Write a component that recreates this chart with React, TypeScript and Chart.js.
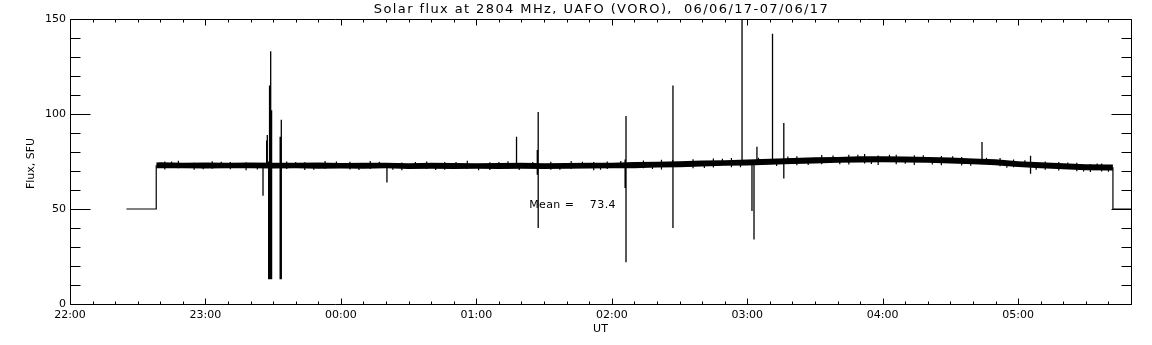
import React, { useEffect, useRef } from "react";
import { Chart, registerables } from "chart.js";

Chart.register(...registerables);

// ---- text ----
const TITLE = "Solar flux at 2804 MHz, UAFO (VORO),  06/06/17-07/06/17";
const X_TITLE = "UT";
const Y_TITLE = "Flux, SFU";
const MEAN_LABEL = "Mean =    73.4";
const MEAN_AT_MIN = 203.4; // minutes after 22:00
const MEAN_AT_FLUX = 51.8;

// ---- axes (x in minutes after 22:00 UT) ----
const X_MIN = 0;
const X_MAX = 470;
const Y_MIN = 0;
const Y_MAX = 150;
const HOUR_TICKS = [0, 60, 120, 180, 240, 300, 360, 420];
const HOUR_LABELS = ["22:00", "23:00", "00:00", "01:00", "02:00", "03:00", "04:00", "05:00"];
const FLUX_TICKS = [0, 50, 100, 150];

// ---- quiet-sun band (envelope of the noisy record) ----
const BAND_T = [38.2, 40, 50, 60, 70, 80, 90, 100, 110, 120, 130, 140, 150, 160, 170, 180, 190, 200, 210, 220, 230, 240, 250, 260, 270, 280, 290, 300, 310, 320, 330, 340, 350, 360, 370, 380, 390, 400, 410, 420, 430, 440, 450, 460, 462];
const BAND_HIGH = [74.5, 74.6, 74.3, 74.5, 74.4, 74.5, 74.3, 74.4, 74.5, 74.2, 74.3, 74.4, 74.1, 74.3, 74.2, 74.1, 74.2, 74.3, 74.1, 74.2, 74.4, 74.4, 74.7, 74.9, 75.1, 75.5, 75.7, 76.1, 76.5, 76.8, 77.2, 77.4, 77.7, 77.8, 77.6, 77.4, 77.1, 76.6, 76.2, 75.1, 74.6, 74.1, 73.5, 73.4, 73.4];
const BAND_LOW = [71.5, 71.4, 71.5, 71.3, 71.4, 71.5, 71.3, 71.4, 71.2, 71.3, 71.2, 71.4, 71.1, 71.2, 71.1, 71.2, 71.0, 71.2, 71.1, 71.2, 71.3, 71.4, 71.5, 71.8, 72.0, 72.4, 72.7, 72.9, 73.3, 73.7, 74.0, 74.4, 74.5, 74.6, 74.5, 74.3, 73.9, 73.5, 73.0, 72.1, 71.4, 70.9, 70.4, 70.2, 70.2];

// ---- small noise tufts sticking out of the band ----
const TUFT_T = [42, 48, 55, 63, 71, 78, 96, 104, 113, 124, 133, 147, 158, 166, 176, 186, 194, 213, 222, 232, 238, 254, 262, 276, 285, 293, 322, 333, 345, 352, 358, 366, 374, 386, 395, 412, 418, 432, 438, 446, 452, 457,
  45, 59, 67, 83, 100, 108, 118, 128, 137, 143, 153, 162, 171, 181, 190, 199, 205, 217, 227, 235, 244, 258, 267, 281, 289, 297, 305, 313, 318, 327, 338, 341, 349, 355, 363, 370, 378, 382, 391, 399, 406, 415, 423, 428, 442, 449, 455, 460];
const TUFT_LOW = [70.8, 71.5, 70.6, 71.2, 70.9, 70.4, 71.0, 70.5, 71.2, 70.8, 71.0, 70.4, 71.1, 70.7, 71.0, 70.5, 71.1, 70.6, 71.0, 70.4, 71.1, 71.5, 70.8, 71.4, 71.8, 72.0, 73.0, 73.6, 73.4, 74.0, 73.2, 73.6, 73.2, 73.0, 72.9, 72.5, 72.0, 70.6, 70.2, 69.9, 69.5, 69.7,
  73.0, 70.9, 72.8, 70.8, 72.8, 70.7, 72.8, 70.5, 72.8, 70.6, 72.6, 70.5, 72.6, 70.4, 72.6, 70.5, 72.6, 70.6, 72.8, 70.6, 73.0, 71.0, 73.5, 71.6, 74.2, 72.0, 74.7, 72.6, 75.2, 73.1, 75.8, 73.5, 76.1, 73.7, 76.2, 73.8, 75.9, 73.4, 75.5, 72.8, 74.8, 71.7, 73.4, 70.6, 72.4, 69.8, 71.9, 69.6];
const TUFT_HIGH = [75.0, 75.4, 74.4, 75.1, 74.8, 74.6, 75.0, 74.6, 75.2, 74.9, 75.3, 74.5, 75.0, 74.8, 75.4, 74.6, 75.1, 74.9, 75.2, 74.7, 75.0, 75.5, 75.9, 76.2, 76.6, 76.9, 77.8, 78.4, 78.6, 78.9, 78.2, 78.6, 78.3, 77.9, 77.4, 76.9, 76.0, 75.0, 74.7, 74.4, 73.7, 73.9,
  75.0, 73.0, 74.9, 73.0, 74.8, 72.9, 75.0, 72.7, 74.9, 72.8, 74.7, 72.7, 74.8, 72.7, 74.7, 72.7, 74.8, 72.7, 74.9, 72.8, 75.2, 73.3, 75.8, 73.9, 76.5, 74.4, 77.0, 75.0, 77.6, 75.5, 78.2, 75.9, 78.5, 76.1, 78.6, 76.1, 78.3, 75.8, 77.8, 75.2, 77.0, 74.1, 75.6, 73.1, 74.5, 72.1, 73.9, 71.8];

// ---- spikes / dropouts ----
const SPIKE_T = [85.5, 87.1, 87.4, 88.0, 88.4, 88.9, 89.3, 93.1, 93.6, 140.4, 197.8, 207.0, 207.4, 245.9, 246.3, 267.1, 297.7, 302.1, 303.0, 304.3, 311.2, 316.2, 404.0, 425.5];
const SPIKE_LOW = [57, 72, 72, 13, 13, 13, 13, 13, 13, 64, 72, 68, 40, 61, 22, 40, 73, 49, 34, 74, 74, 66, 75, 68.5];
const SPIKE_HIGH = [73, 86, 89, 75, 115, 133, 102, 88, 97, 73, 88, 81, 101, 76, 99, 115, 150, 74, 74, 82.8, 142.3, 95.3, 85.3, 78];

// ---- calibration steps at start and end ----
const LEAD_T = [25, 38.2, 38.2];
const LEAD_Y = [50, 50, 73];
const TAIL_T = [462, 462, 470];
const TAIL_Y = [72, 50, 50];

const FONT = "DejaVu Sans";

const pts = (xs: number[], ys: number[]) => xs.map((x, i) => ({ x, y: ys[i] }));
const segs = (ts: number[], lo: number[], hi: number[]) => {
  const out: { x: number; y: number | null }[] = [];
  ts.forEach((t, i) => {
    out.push({ x: t, y: lo[i] }, { x: t, y: hi[i] }, { x: t, y: null });
  });
  return out;
};

const idlPlugin = {
  id: "idlFrame",
  afterDraw(chart: any) {
    const { ctx, chartArea: a, scales } = chart;
    const xs = scales.x;
    const ys = scales.y;
    ctx.save();
    ctx.strokeStyle = "#000";
    ctx.lineWidth = 1;
    ctx.beginPath();
    const L = a.left + 0.5;
    const R = a.right + 0.5;
    const T = a.top + 0.5;
    const B = a.bottom + 0.5;
    ctx.moveTo(L, T);
    ctx.lineTo(R, T);
    ctx.lineTo(R, B);
    ctx.lineTo(L, B);
    ctx.closePath();
    for (let v = Y_MIN; v <= Y_MAX; v += 10) {
      const y = Math.round(ys.getPixelForValue(v)) + 0.5;
      const len = v % 50 === 0 ? 20 : 10;
      ctx.moveTo(L, y);
      ctx.lineTo(L + len, y);
      ctx.moveTo(R, y);
      ctx.lineTo(R - len, y);
    }
    for (let t = X_MIN; t <= X_MAX; t += 10) {
      const x = Math.round(xs.getPixelForValue(t)) + 0.5;
      const len = t % 60 === 0 ? 6 : 3;
      ctx.moveTo(x, B);
      ctx.lineTo(x, B - len);
      ctx.moveTo(x, T);
      ctx.lineTo(x, T + len);
    }
    ctx.stroke();

    ctx.fillStyle = "#000";
    // title
    ctx.font = `13px "${FONT}"`;
    (ctx as any).letterSpacing = "1.4px";
    ctx.textAlign = "center";
    ctx.textBaseline = "middle";
    ctx.fillText(TITLE, (a.left + a.right) / 2 + 1, 10);
    (ctx as any).letterSpacing = "0px";
    // x title
    ctx.font = `11px "${FONT}"`;
    ctx.fillText(X_TITLE, (a.left + a.right) / 2, 329);
    // y title
    ctx.save();
    ctx.translate(31, (a.top + a.bottom) / 2 + 2);
    ctx.rotate(-Math.PI / 2);
    ctx.fillText(Y_TITLE, 0, 0);
    ctx.restore();
    // mean
    ctx.textAlign = "left";
    (ctx as any).letterSpacing = "0.4px";
    ctx.fillText(MEAN_LABEL, xs.getPixelForValue(MEAN_AT_MIN), ys.getPixelForValue(MEAN_AT_FLUX));
    (ctx as any).letterSpacing = "0px";
    ctx.restore();
  },
};

export default function App() {
  const ref = useRef<HTMLCanvasElement | null>(null);
  useEffect(() => {
    if (!ref.current) return;
    const lineDs = (data: any[], extra: any = {}) => ({
      data,
      borderColor: "#000",
      borderWidth: 1,
      pointRadius: 0,
      fill: false,
      tension: 0,
      spanGaps: false,
      ...extra,
    });
    const chart = new Chart(ref.current, {
      type: "line",
      data: {
        datasets: [
          lineDs(pts(BAND_T, BAND_LOW), { borderWidth: 0 }),
          lineDs(pts(BAND_T, BAND_HIGH), { borderWidth: 0, fill: "-1", backgroundColor: "#000" }),
          lineDs(segs(TUFT_T, TUFT_LOW, TUFT_HIGH), { borderWidth: 1.2 }),
          lineDs(segs(SPIKE_T, SPIKE_LOW, SPIKE_HIGH), { borderWidth: 1.3 }),
          lineDs(pts(LEAD_T, LEAD_Y), { borderWidth: 1.2 }),
          lineDs(pts(TAIL_T, TAIL_Y), { borderWidth: 1.2 }),
        ] as any,
      },
      options: {
        animation: false,
        responsive: false,
        devicePixelRatio: 1,
        layout: { padding: { top: 19, right: 21, left: 0, bottom: 0 } },
        plugins: {
          legend: { display: false },
          tooltip: { enabled: false },
          title: { display: false },
        },
        scales: {
          x: {
            type: "linear",
            min: X_MIN,
            max: X_MAX,
            grid: { display: false, drawTicks: false },
            border: { display: false },
            afterBuildTicks: (s: any) => {
              s.ticks = HOUR_TICKS.map((v) => ({ value: v }));
            },
            afterFit: (s: any) => {
              s.height = 41;
            },
            ticks: {
              padding: 5,
              color: "#000",
              maxRotation: 0,
              autoSkip: false,
              font: { family: FONT, size: 11 },
              callback: (_v: any, i: number) => HOUR_LABELS[i] ?? "",
            },
          },
          y: {
            type: "linear",
            min: Y_MIN,
            max: Y_MAX,
            grid: { display: false, drawTicks: false },
            border: { display: false },
            afterBuildTicks: (s: any) => {
              s.ticks = FLUX_TICKS.map((v) => ({ value: v }));
            },
            afterFit: (s: any) => {
              s.width = 70;
            },
            ticks: {
              padding: 4,
              color: "#000",
              font: { family: FONT, size: 11 },
              callback: (v: any) => String(v),
            },
          },
        },
      } as any,
      plugins: [idlPlugin],
    });
    return () => chart.destroy();
  }, []);
  return (
    <div style={{ position: "fixed", left: 0, top: 0, width: 1152, height: 345, background: "#fff" }}>
      <canvas ref={ref} width={1152} height={345} style={{ display: "block" }} />
    </div>
  );
}
